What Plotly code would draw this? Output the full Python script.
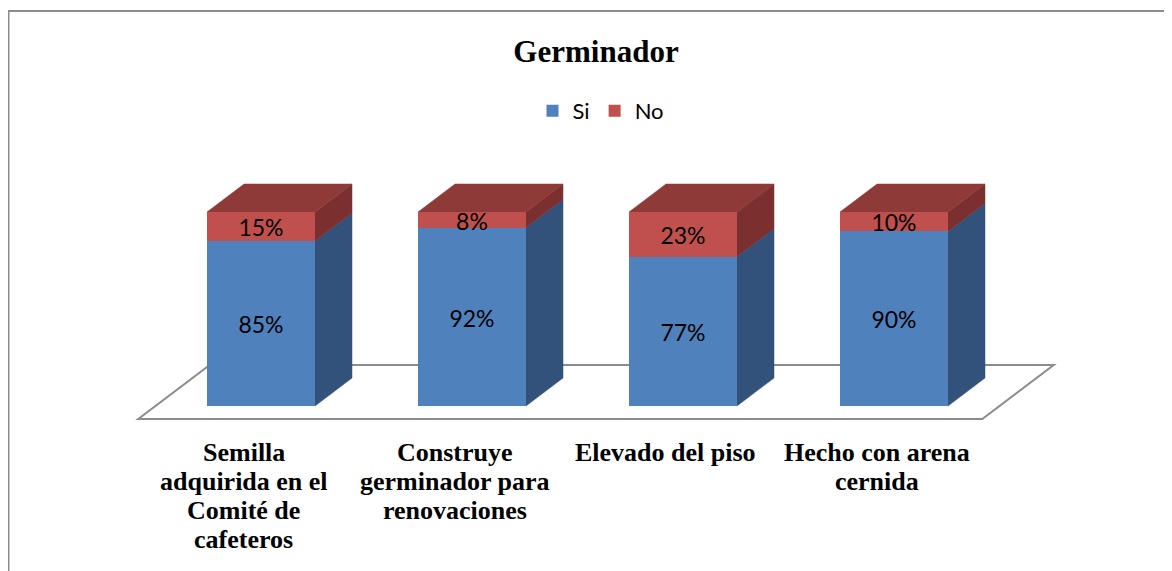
import plotly.graph_objects as go

# ---------------- data ----------------
categories = [
    "Semilla<br>adquirida en el<br>Comité de<br>cafeteros",
    "Construye<br>germinador para<br>renovaciones",
    "Elevado del piso",
    "Hecho con arena<br>cernida",
]
si_values = [85, 92, 77, 90]
no_values = [15, 8, 23, 10]
series_names = ["Si", "No"]
title_text = "Germinador"

# ---------------- styling / geometry ----------------
BODY = 8                                # default page margin around the figure
WIN_W, WIN_H = 1172, 571
W, H = WIN_W - BODY, WIN_H - BODY
PLOT_X0, PLOT_X1 = 50, 1105             # plot area in window px
PLOT_Y0, PLOT_Y1 = 154, 464
L, R = PLOT_X0 - BODY, W - (PLOT_X1 - BODY)
T, B = PLOT_Y0 - BODY, H - (PLOT_Y1 - BODY)
PX_PER_CAT = (PLOT_X1 - PLOT_X0) / 5.0  # x range [-1, 4]
ZERO_PX, HUNDRED_PX = 406, 212
PX_PER_PCT = (ZERO_PX - HUNDRED_PX) / 100.0
Y_TOP = 100 + (HUNDRED_PX - PLOT_Y0) / PX_PER_PCT
Y_BOT = -(PLOT_Y1 - ZERO_PX) / PX_PER_PCT

BAR_W = 108 / PX_PER_CAT
DX = 37 / PX_PER_CAT                    # depth offset, x units
DY = 28 / PX_PER_PCT                    # depth offset, y units
FLOOR_DEPTH = 1.93                      # floor depth relative to bar depth
OFF = (FLOOR_DEPTH - 1) / 2
LABEL_SHIFT = 4 / PX_PER_PCT            # value labels sit slightly below centre

FRONT = ["#4F81BD", "#C0504D"]
SIDE = ["#32527C", "#7B302F"]
TOP = "#8E3A39"
FLOOR_LINE = "#8C8C8C"


def px_to_paper_x(px):
    return (px - PLOT_X0) / (PLOT_X1 - PLOT_X0)


def py_to_paper_y(py):
    return (PLOT_Y1 - py) / (PLOT_Y1 - PLOT_Y0)


n = len(categories)
xs = list(range(n))

fig = go.Figure()

# front faces
for name, vals, col in zip(series_names, [si_values, no_values], FRONT):
    fig.add_trace(go.Bar(
        x=xs, y=vals, name=name, width=BAR_W,
        marker=dict(color=col, line=dict(width=0)),
        hoverinfo="skip",
    ))

# side and top faces
for i in xs:
    xl, xr = i - BAR_W / 2, i + BAR_W / 2
    s, t = si_values[i], si_values[i] + no_values[i]
    polys = [
        ([xr, xr + DX, xr + DX, xr], [0, DY, s + DY, s], SIDE[0]),
        ([xr, xr + DX, xr + DX, xr], [s, s + DY, t + DY, t], SIDE[1]),
        ([xl, xl + DX, xr + DX, xr], [t, t + DY, t + DY, t], TOP),
    ]
    for px_, py_, col in polys:
        fig.add_trace(go.Scatter(
            x=px_, y=py_, mode="lines", fill="toself", fillcolor=col,
            line=dict(color=col, width=0.5), showlegend=False, hoverinfo="skip",
        ))

# value labels
lab_x, lab_y, lab_t = [], [], []
for i in xs:
    lab_x += [i, i]
    lab_y += [si_values[i] / 2 - LABEL_SHIFT,
              si_values[i] + no_values[i] / 2 - LABEL_SHIFT]
    lab_t += [f"{si_values[i]}%", f"{no_values[i]}%"]
fig.add_trace(go.Scatter(
    x=lab_x, y=lab_y, text=lab_t, mode="text", textposition="middle center",
    textfont=dict(family="Lato", size=23, color="black"),
    showlegend=False, hoverinfo="skip", cliponaxis=False,
))

# floor (3D plane)
fl = (-0.5 - OFF * DX, -OFF * DY)
fr = (n - 0.5 - OFF * DX, -OFF * DY)
br = (n - 0.5 + (1 + OFF) * DX, (1 + OFF) * DY)
bl = (-0.5 + (1 + OFF) * DX, (1 + OFF) * DY)
path = "M {} {} L {} {} L {} {} L {} {} Z".format(*fl, *fr, *br, *bl)
fig.add_shape(type="path", path=path, xref="x", yref="y", layer="below",
              fillcolor="white", line=dict(color=FLOOR_LINE, width=2))

# category labels (wrapped lines)
LINE0_PX, LINE_STEP = 452, 29
for i, cat in enumerate(categories):
    for k, line in enumerate(cat.split("<br>")):
        fig.add_annotation(
            x=i - OFF * DX, xref="x",
            y=py_to_paper_y(LINE0_PX + k * LINE_STEP), yref="paper",
            text=f"<b>{line}</b>", showarrow=False, xanchor="center", yanchor="middle",
            font=dict(family="Liberation Serif", size=26, color="black"),
        )

# outer chart border
fig.add_shape(type="rect", xref="paper", yref="paper",
              x0=px_to_paper_x(BODY + 0.5), x1=px_to_paper_x(WIN_W + 20),
              y0=py_to_paper_y(WIN_H + 20), y1=py_to_paper_y(11),
              line=dict(color="#8C8C8C", width=2), fillcolor="rgba(0,0,0,0)",
              layer="below")

fig.update_layout(
    width=W, height=H,
    margin=dict(l=L, r=R, t=T, b=B, pad=0),
    barmode="stack",
    paper_bgcolor="white", plot_bgcolor="white",
    title=dict(text=f"<b>{title_text}</b>", xref="container", yref="container",
               x=(596 - BODY) / W, y=1 - (51 - BODY) / H,
               xanchor="center", yanchor="middle",
               font=dict(family="Liberation Serif", size=31, color="black")),
    legend=dict(orientation="h", xref="container", yref="container",
                x=(601 - BODY) / W, y=1 - (111 - BODY) / H,
                xanchor="center", yanchor="middle", traceorder="normal",
                font=dict(family="Lato", size=22, color="black"),
                itemclick=False, itemdoubleclick=False),
    xaxis=dict(range=[-1, 4], visible=False, fixedrange=True),
    yaxis=dict(range=[Y_BOT, Y_TOP], visible=False, fixedrange=True),
    hovermode=False,
    showlegend=True,
)

fig.write_html("out.html")
